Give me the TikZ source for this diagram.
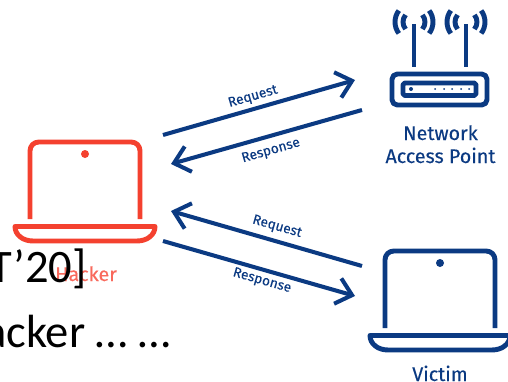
\documentclass[tikz,border=0pt]{standalone}
\usepackage{fontspec}
\setmainfont{Carlito}
\newfontfamily\labelfont[FakeBold=0.25]{Fira Sans}
\usetikzlibrary{arrows.meta}
\definecolor{navy}{HTML}{0B3A82}
\definecolor{hackred}{HTML}{F4412F}
\definecolor{hacklabel}{HTML}{F9695C}
\begin{document}
\begin{tikzpicture}[x=0.02cm, y=-0.02cm]

	\tikzstyle{link}=[-{Straight Barb[length=8.5pt, width=15pt]}, navy, line width=2.3pt]
	\tikzstyle{linklabel}=[text=navy, inner sep=0pt, font=\labelfont\fontsize{7.8}{9}\selectfont]
	\tikzstyle{devlabel}=[text=navy, inner sep=0pt, anchor=base, font=\labelfont\fontsize{11.2}{13}\selectfont]
	\tikzstyle{slide}=[text=black, inner sep=0pt, anchor=base east, font=\fontsize{26.5}{30}\selectfont]
	\tikzstyle{body}=[line width=2.8pt, line join=round]

	\useasboundingbox (0,0) rectangle (508,382);
	\clip (0,0) rectangle (508,382);
	\fill[white] (0,0) rectangle (508,382);

	% Hacker laptop
	\draw[body, hackred, rounded corners=5pt] (30,219) -- (30,142) -- (140,142) -- (140,219);
	\fill[hackred] (85,154) circle (4);
	\draw[body, hackred] (15,226.5) -- (155,226.5) .. controls (155,235) and (147,241) .. (137,241) -- (33,241) .. controls (23,241) and (15,235) .. (15,226.5) -- cycle;
	\node[devlabel, text=hacklabel] (hacker) at (86,281) {Hacker};

	% Victim laptop
	\draw[body, navy, rounded corners=5pt] (385,328) -- (385,251) -- (495,251) -- (495,328);
	\fill[navy] (440,263) circle (4);
	\draw[body, navy] (370,335.5) -- (510,335.5) .. controls (510,344) and (502,350) .. (492,350) -- (388,350) .. controls (378,350) and (370,344) .. (370,335.5) -- cycle;
	\node[devlabel] (victim) at (440,381) {Victim};

	% Router
	\draw[body, navy, rounded corners=3pt] (392,74) rectangle (487,105);
	\draw[body, navy, rounded corners=1pt] (403,83) rectangle (476,95.5);
	\draw[body, navy] (414,24) -- (414,67);
	\draw[body, navy] (466,24) -- (466,67);
	\fill[navy] (411,89) circle (2);
	\foreach \dotx in {435,444,452,461,469}
		\fill[navy] (\dotx,89) circle (1);
	\foreach \antx in {414,466} {
		\draw[body, navy] ([shift={(\antx,22)}] 140:11) arc (140:220:11);
		\draw[body, navy] ([shift={(\antx,22)}] 143:19) arc (143:217:19);
		\draw[body, navy] ([shift={(\antx,22)}] 40:11) arc (40:-40:11);
		\draw[body, navy] ([shift={(\antx,22)}] 37:19) arc (37:-37:19);
	}
	\node[devlabel] (ap1) at (440.5,140) {Network};
	\node[devlabel] (ap2) at (440.5,163) {Access Point};

	% Links
	\coordinate (a1) at (163,135);
	\coordinate (a2) at (355,80);
	\coordinate (b1) at (362,110);
	\coordinate (b2) at (171,164);
	\coordinate (c1) at (362,266);
	\coordinate (c2) at (171,211);
	\coordinate (d1) at (163,241);
	\coordinate (d2) at (355,296);
	\draw[link] (a1) -- (a2);
	\draw[link] (b1) -- (b2);
	\draw[link] (c1) -- (c2);
	\draw[link] (d1) -- (d2);

	\node[linklabel, rotate=16] (req1) at (253,97) {Request};
	\node[linklabel, rotate=16] (res1) at (271,151) {Response};
	\node[linklabel, rotate=-16] (req2) at (277,227) {Request};
	\node[linklabel, rotate=-16] (res2) at (262,281) {Response};

	% Slide text behind the figure
	\node[slide] (cite) at (87,282) {T’20]};
	\node[slide] (line2) at (171,347) {acker … …};
\end{tikzpicture}
\end{document}
